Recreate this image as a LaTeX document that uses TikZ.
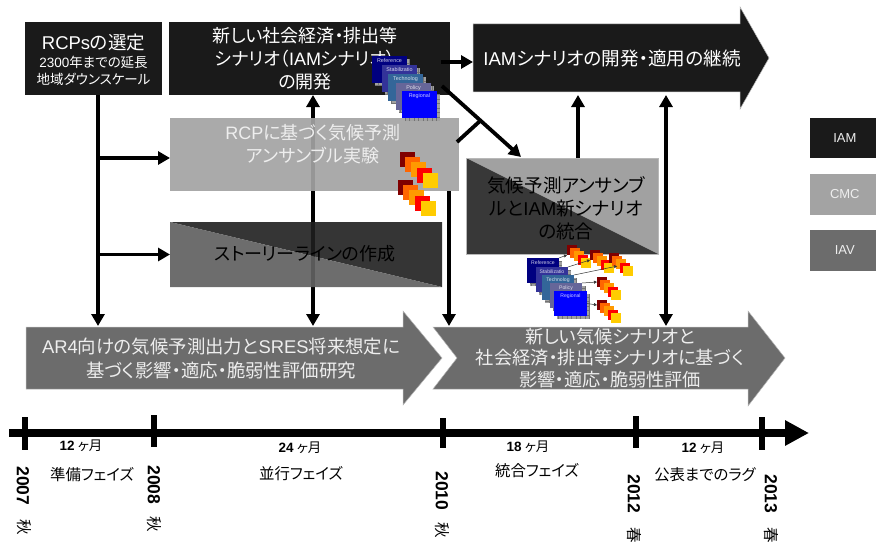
\documentclass[tikz,border=0pt]{standalone}
\usepackage{fontspec}
\usetikzlibrary{arrows.meta,calc}
\setmainfont{Noto Sans CJK JP}[RawFeature=+palt]
\newfontfamily\latinfont{Liberation Sans}
\newcommand{\lat}[1]{{\latinfont #1}}
\newcommand{\sz}[2]{\fontsize{#1}{#2}\selectfont}

\definecolor{iamdark}{HTML}{1A1A1A}
\definecolor{cmcgray}{HTML}{A3A3A3}
\definecolor{iavgray}{HTML}{6C6C6C}
\definecolor{paletext}{HTML}{EEEEEE}
\definecolor{edgegray}{HTML}{B8B8B8}
\definecolor{shadowgray}{HTML}{A0A0A0}
\definecolor{cardA}{HTML}{000080}
\definecolor{cardB}{HTML}{333399}
\definecolor{cardC}{HTML}{336699}
\definecolor{cardD}{HTML}{666699}
\definecolor{cardE}{HTML}{0000FF}
\definecolor{sqA}{HTML}{800000}
\definecolor{sqB}{HTML}{FF6600}
\definecolor{sqC}{HTML}{FF9900}
\definecolor{sqD}{HTML}{FF0000}
\definecolor{sqE}{HTML}{FFCC00}

\tikzset{
  x=1pt,y=-1pt,
  every node/.style={inner sep=0pt,outer sep=0pt},
  flow/.style={line width=3.8pt,draw=black,-{Triangle[length=12pt,width=13pt]}},
  flowboth/.style={line width=3.8pt,draw=black,{Triangle[length=12pt,width=13pt]}-{Triangle[length=12pt,width=13pt]}},
  plainflow/.style={line width=3.8pt,draw=black},
  thinlink/.style={line width=.5pt,draw=black!80,-{Triangle[length=3pt,width=3pt]}},
  tickmark/.style={line width=6pt,draw=black},
  boxtext/.style={align=center,font=\sz{18}{23}},
  legend/.style={minimum width=66pt,text=paletext,font=\latinfont\sz{13}{15}},
  months/.style={font=\sz{13.5}{15}},
  phase/.style={font=\sz{15.4}{17}},
  yearlabel/.style={rotate=-90,font=\latinfont\bfseries\sz{17.5}{18}},
  seasonlabel/.style={rotate=-90,font=\sz{15.5}{17}},
}

% One scenario card: grey hatched shadow, coloured face, small caption
\newcommand{\modelcard}[7]{%
  \fill[shadowgray] (#2+3,#3+3) rectangle (#2+#4+3,#3+#5+3);
  \draw[line width=.25pt,draw=black!55] (#2+3,#3+#5+3) grid[step=4.5pt] (#2+#4+3,#3+3);
  \node[fill=#6,minimum width=#4pt,minimum height=#5pt] (#1) at (#2+#4/2,#3+#5/2) {};
  \node[below=3pt,text=white!80!#6,font=\latinfont\sz{\cardsize}{6}] at (#1.north) {#7};
}
% A cascade of five coloured squares
\newcommand{\squares}[5]{%
  \node[fill=sqA,minimum size=#4pt] (#1a) at (#2+#4/2,#3+#4/2) {};
  \node[fill=sqB,minimum size=#4pt] (#1b) at (#2+#4/2+#5*5,#3+#4/2+#5*5) {};
  \node[fill=sqC,minimum size=#4pt] (#1c) at (#2+#4/2+#5*11,#3+#4/2+#5*10) {};
  \node[fill=sqD,minimum size=#4pt] (#1d) at (#2+#4/2+#5*17,#3+#4/2+#5*16) {};
  \node[fill=sqE,minimum size=#4pt] (#1e) at (#2+#4/2+#5*23,#3+#4/2+#5*21) {};
}

\begin{document}
\begin{tikzpicture}
\useasboundingbox (0,543) rectangle (876,0);

% Column reference positions of the vertical connectors
\coordinate (colA) at (98,0);
\coordinate (colB) at (313,0);
\coordinate (colC) at (449,0);
\coordinate (colD) at (578,0);
\coordinate (colE) at (666,0);
\coordinate (topEdge) at (0,95);
\coordinate (lowEdge) at (0,326);

% Large block arrows
\filldraw[fill=iamdark,draw=edgegray,line width=.5pt]
  (473,24) -- (740,24) -- (740,7) -- (769,58) -- (740,109) -- (740,92) -- (473,92) -- cycle;
\node[font=\sz{18.6}{20},text=white] (iamarrow) at (612,58) {\lat{IAM}シナリオの開発・適用の継続};
\filldraw[fill=iavgray,draw=edgegray,line width=.5pt]
  (26,327) -- (403,327) -- (403,311) -- (442,358) -- (403,405) -- (403,389) -- (26,389) -- cycle;
\node[align=center,text=paletext,font=\sz{18.4}{24}] (impactold) at (221,358.5)
  {\lat{AR4}向けの気候予測出力と\lat{SRES}将来想定に\\基づく影響・適応・脆弱性評価研究};
\filldraw[fill=iavgray,draw=edgegray,line width=.5pt]
  (433,327) -- (748,327) -- (748,311) -- (785,358) -- (748,406) -- (748,389) -- (433,389) -- (457,358) -- cycle;
\node[align=center,text=paletext,font=\sz{18.2}{21.3}] (impactnew) at (610,358)
  {新しい気候シナリオと\\社会経済・排出等シナリオに基づく\\影響・適応・脆弱性評価};

% Boxes at the top
\node[fill=iamdark,minimum width=137pt,minimum height=73pt] (rcps) at (93.5,58.5) {};
\node[text=white,font=\sz{18.5}{21}] (rcpsTitle) at (93.5,43) {\lat{RCPs}の選定};
\node[text=white,font=\sz{13.5}{16}] (rcpsLineA) at (93.5,62) {\lat{2300}年までの延長};
\node[text=white,font=\sz{13.5}{16}] (rcpsLineB) at (93.5,79) {地域ダウンスケール};
\node[fill=iamdark,minimum width=281pt,minimum height=73pt] (socio) at (309.5,58.5) {};
\node[boxtext,text=white] at (305,59) {新しい社会経済・排出等\\シナリオ（\lat{IAM}シナリオ）\\の開発};

% Named frames for the filled boxes
\node[minimum width=289pt,minimum height=73pt] (ensemble) at (314.5,154.5) {};
\node[minimum width=272pt,minimum height=65pt] (story) at (306,254.5) {};
\node[minimum width=192pt,minimum height=96pt] (merge) at (562,206) {};

% Vertical connector behind the translucent boxes
\draw[flowboth] (colB |- socio.south) -- (colB |- lowEdge);

% Translucent boxes let that connector show faintly
\fill[fill=cmcgray,fill opacity=.92] (ensemble.north west) rectangle (ensemble.south east);
\node[boxtext,text=paletext] at (313,144.5) {\lat{RCP}に基づく気候予測\\アンサンブル実験};
\fill[fill=black!88,fill opacity=.9] (story.north west) -- (story.north east) -- (story.south east) -- cycle;
\fill[fill=black!62,fill opacity=.92] (story.north west) -- (story.south west) -- (story.south east) -- cycle;
\node[boxtext] at (305,254) {ストーリーラインの作成};

% Integration box
\fill[fill=black!37] (merge.north west) -- (merge.north east) -- (merge.south east) -- cycle;
\fill[fill=black!78] (merge.north west) -- (merge.south west) -- (merge.south east) -- cycle;
\draw[edgegray,line width=.6pt] (merge.north west) rectangle (merge.south east);
\node[align=center,font=\sz{18.6}{23}] at (566,208) {気候予測アンサンブ\\ルと\lat{IAM}新シナリオ\\の統合};

% Connectors between the boxes
\coordinate (ensembleIn) at (170,158);
\draw[flow] (colA |- rcps.south) -- (colA |- lowEdge);
\draw[flow] (colA |- ensembleIn) -- (ensembleIn);
\draw[flow] (colA |- story.west) -- (story.west);
\draw[flow] (colC |- ensemble.south) -- (colC |- lowEdge);
\coordinate (socioOut) at (441,62);
\coordinate (iamIn) at (473,62);
\draw[flow] (socioOut) -- (iamIn);
\coordinate (diagStart) at (442,86);
\coordinate (diagEnd) at (521,157);
\coordinate (diagJoin) at (480,121);
\coordinate (ensembleOut) at (457,142);
\draw[flow] (diagStart) -- (diagEnd);
\draw[plainflow] (ensembleOut) -- (diagJoin);
\draw[flow] (colD |- merge.north) -- (colD |- topEdge);
\draw[flowboth] (colE |- topEdge) -- (colE |- lowEdge);

% Scenario card stack on the upper box
\def\cardsize{5.4}
\modelcard{ua}{372}{56}{35}{27}{cardA}{Reference}
\modelcard{ub}{382}{65}{35}{27}{cardB}{Stabilizatio}
\modelcard{uc}{388}{74}{35}{27}{cardC}{Technolog}
\modelcard{ud}{396}{83}{35}{27}{cardD}{Policy}
\modelcard{ue}{402}{91}{35}{27}{cardE}{Regional}

% Square cascades on the ensemble box
\squares{sa}{400}{152}{15}{1}
\squares{sb}{398}{180}{15}{1}

% Scenario card stack beneath the integration box
\def\cardsize{5.1}
\modelcard{la}{527}{258}{32}{25}{cardA}{Reference}
\modelcard{lb}{536}{267}{32}{25}{cardB}{Stabilizatio}
\modelcard{lc}{542}{275}{32}{25}{cardC}{Technolog}
\modelcard{ld}{550}{283}{32}{25}{cardD}{Policy}
\modelcard{le}{554}{291}{33}{25}{cardE}{Regional}

% Square cascades fed by the cards
\squares{ta}{567}{245}{10}{.62}
\squares{tb}{590}{250}{10}{.62}
\squares{tc}{609}{253}{10}{.62}
\squares{td}{597}{277}{10}{.62}
\squares{te}{597}{300}{10}{.62}
\draw[thinlink] (la.north east) -- (taa.south west);
\draw[thinlink] (lb.north east) -- (tba.south west);
\draw[thinlink] (lc.north east) -- (tcb.south);
\draw[thinlink] (ld.north east) -- (tda.west);
\draw[thinlink] (le.east) -- (tea.west);

% Legend
\node[legend,fill=iamdark,minimum height=40pt] (legIAM) at (843,138) {\ IAM};
\node[legend,fill=cmcgray,minimum height=41pt] (legCMC) at (843,194.5) {\ CMC};
\node[legend,fill=iavgray,minimum height=41pt] (legIAV) at (843,250.5) {\ IAV};

% Time axis
\coordinate (axisStart) at (9,433);
\coordinate (axisEnd) at (809,433);
\draw[line width=8pt,-{Triangle[length=24pt,width=24pt]}] (axisStart) -- (axisEnd);
\draw[tickmark] (25,417) -- (25,450);
\draw[tickmark] (154,415) -- (154,447);
\draw[tickmark] (443,418) -- (443,448);
\draw[tickmark] (635.5,416) -- (635.5,448);
\draw[tickmark] (762,417) -- (762,450);

% Durations
\node[months] at (81,446) {{\latinfont\bfseries 12} ヶ月};
\node[months] at (300,448) {{\latinfont\bfseries 24} ヶ月};
\node[months] at (528,447) {{\latinfont\bfseries 18} ヶ月};
\node[months] at (703,448) {{\latinfont\bfseries 12} ヶ月};

% Phases
\node[phase] at (92,475) {準備フェイズ};
\node[phase] at (301,474) {並行フェイズ};
\node[phase] at (537,471) {統合フェイズ};
\node[phase] at (705,475) {公表までのラグ};

% Years and seasons
\node[yearlabel] at (23,486) {2007};
\node[seasonlabel] at (24,527) {秋};
\node[yearlabel] at (154,485) {2008};
\node[seasonlabel] at (154,524) {秋};
\node[yearlabel] at (442,491) {2010};
\node[seasonlabel] at (442,530) {秋};
\node[yearlabel] at (634,494) {2012};
\node[seasonlabel] at (634,535) {春};
\node[yearlabel] at (771,494) {2013};
\node[seasonlabel] at (771,535) {春};
\end{tikzpicture}
\end{document}
